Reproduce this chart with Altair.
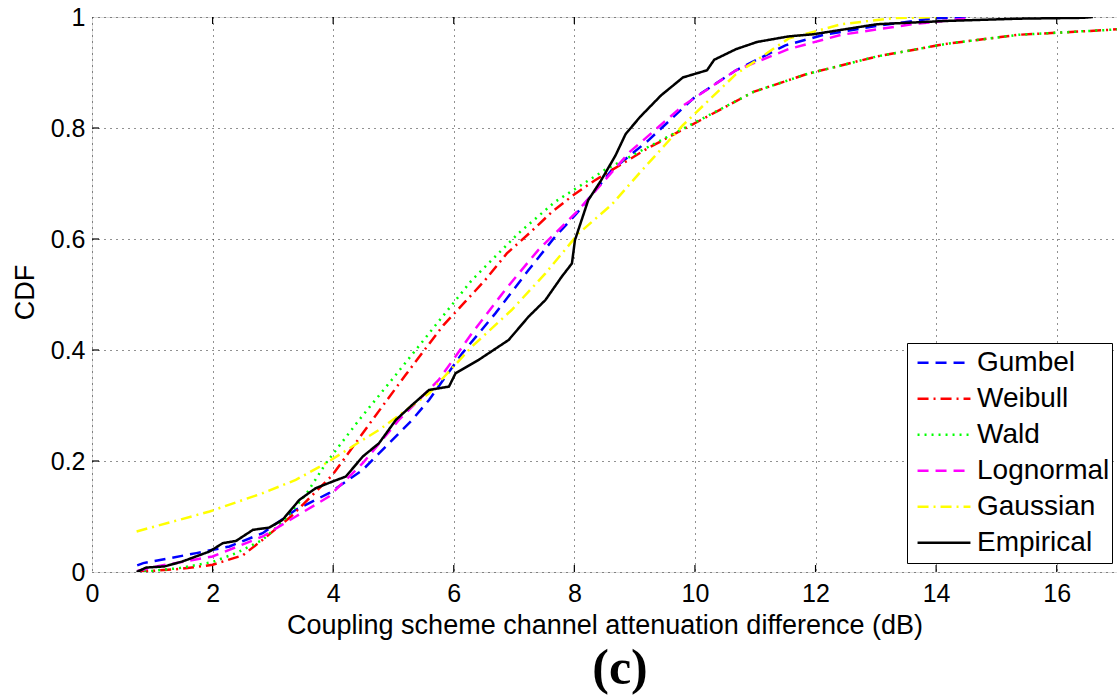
import altair as alt
import pandas as pd

series_names = ["Gumbel", "Weibull", "Wald", "Lognormal", "Gaussian", "Empirical"]
series_colors = ["#0000ff", "#ff0000", "#00ff00", "#ff00ff", "#ffff00", "#000000"]
series_dashes = [[11, 7], [11, 5, 2, 5], [2, 5], [11, 7], [11, 5, 2, 5], [1, 0]]

gumbel_x = [0.75, 0.85, 1.73, 2.28, 2.83, 3.38, 3.93, 4.49, 5.31, 5.59, 6.14, 6.69, 7.24, 7.68, 8.03, 8.62, 9.21, 9.97, 10.68, 11.5, 12.14, 13.02, 13.9, 14.5]
gumbel_y = [0.012, 0.016, 0.034, 0.046, 0.07, 0.112, 0.142, 0.184, 0.274, 0.31, 0.394, 0.466, 0.544, 0.604, 0.645, 0.724, 0.776, 0.853, 0.904, 0.949, 0.968, 0.984, 0.997, 1.0]

weibull_x = [0.75, 1.0, 1.5, 2.0, 2.5, 2.83, 3.3, 3.99, 4.65, 5.2, 5.83, 6.19, 6.52, 6.88, 7.27, 7.63, 7.97, 8.33, 9.21, 10.09, 10.97, 11.85, 13.02, 14.19, 15.37, 16.9, 17.0]
weibull_y = [0.0, 0.002, 0.006, 0.013, 0.03, 0.058, 0.1, 0.175, 0.274, 0.355, 0.445, 0.487, 0.526, 0.574, 0.612, 0.649, 0.678, 0.705, 0.763, 0.814, 0.865, 0.897, 0.929, 0.952, 0.968, 0.977, 0.978]

wald_x = [0.75, 1.0, 1.45, 2.0, 2.39, 2.83, 3.2, 3.55, 3.88, 4.43, 5.0, 5.59, 6.3, 7.07, 7.68, 8.5, 9.21, 10.09, 10.97, 11.85, 13.02, 14.19, 15.37, 16.9, 17.0]
wald_y = [0.0, 0.002, 0.007, 0.018, 0.034, 0.058, 0.095, 0.14, 0.196, 0.274, 0.35, 0.43, 0.526, 0.61, 0.667, 0.724, 0.765, 0.815, 0.865, 0.897, 0.929, 0.952, 0.968, 0.977, 0.978]

lognormal_x = [0.75, 1.07, 2.0, 2.83, 3.38, 3.93, 4.49, 5.09, 5.75, 6.3, 6.85, 7.4, 8.05, 8.92, 9.8, 10.68, 11.55, 12.43, 13.6, 14.49]
lognormal_y = [0.002, 0.01, 0.028, 0.064, 0.1, 0.136, 0.196, 0.274, 0.346, 0.43, 0.508, 0.58, 0.65, 0.757, 0.84, 0.904, 0.942, 0.968, 0.987, 0.997]

gaussian_x = [0.74, 1.95, 2.83, 3.38, 3.88, 4.49, 4.76, 5.59, 6.3, 6.96, 7.52, 8.07, 8.62, 9.09, 9.8, 10.68, 11.55, 12.43, 13.3, 14.0]
gaussian_y = [0.073, 0.109, 0.142, 0.166, 0.196, 0.238, 0.256, 0.322, 0.406, 0.472, 0.538, 0.61, 0.662, 0.72, 0.805, 0.897, 0.961, 0.987, 0.998, 1.0]

empirical_x = [0.74, 0.9, 1.2, 1.5, 1.95, 2.17, 2.39, 2.67, 2.94, 3.16, 3.44, 3.71, 3.99, 4.21, 4.49, 4.76, 5.04, 5.3, 5.59, 5.92, 6.03, 6.41, 6.91, 7.24, 7.52, 7.79, 7.96, 8.01, 8.12, 8.23, 8.44, 8.68, 8.85, 9.09, 9.44, 9.8, 10.2, 10.32, 10.68, 11.03, 11.55, 11.97, 13.02, 14.19, 15.37, 16.43, 16.6]
empirical_y = [0.0, 0.008, 0.01, 0.019, 0.037, 0.052, 0.056, 0.076, 0.08, 0.094, 0.13, 0.151, 0.163, 0.172, 0.208, 0.232, 0.274, 0.3, 0.328, 0.334, 0.358, 0.382, 0.418, 0.46, 0.49, 0.532, 0.556, 0.598, 0.634, 0.67, 0.705, 0.75, 0.789, 0.82, 0.859, 0.891, 0.904, 0.923, 0.942, 0.955, 0.965, 0.969, 0.987, 0.993, 0.997, 0.9985, 1.0]

x_ticks = [0, 2, 4, 6, 8, 10, 12, 14, 16]
y_ticks = [0, 0.2, 0.4, 0.6, 0.8, 1]

x_title = "Coupling scheme channel attenuation difference (dB)"
y_title = "CDF"
caption = "(c)"

all_x = [gumbel_x, weibull_x, wald_x, lognormal_x, gaussian_x, empirical_x]
all_y = [gumbel_y, weibull_y, wald_y, lognormal_y, gaussian_y, empirical_y]
rows = []
for name, xs, ys in zip(series_names, all_x, all_y):
    for i, (a, b) in enumerate(zip(xs, ys)):
        rows.append({"series": name, "x": a, "y": b, "order": i})
df = pd.DataFrame(rows)

FONT = "Liberation Sans"

xscale = alt.Scale(domain=[0, 17], nice=False, zero=False)
yscale = alt.Scale(domain=[0, 1], nice=False)

legend = alt.Legend(orient="none", legendX=815, legendY=326, title=None,
                    symbolType="stroke", symbolSize=2800, symbolStrokeWidth=2.5,
                    symbolOffset=7, clipHeight=35.7,
                    labelFont=FONT, labelFontSize=28, labelColor="black",
                    strokeColor="black", fillColor="white", padding=2,
                    rowPadding=0, labelOffset=5, labelLimit=300)

lines = alt.Chart(df).mark_line(strokeWidth=2.5, clip=True).encode(
    x=alt.X("x:Q", scale=xscale,
            axis=alt.Axis(values=x_ticks, format="d", labelFlush=False, title=x_title, grid=True,
                          gridDash=[1, 5], gridColor="#222",
                          gridWidth=1, ticks=False, domain=False, labelFont=FONT, labelFontSize=25,
                          labelColor="black", labelPadding=9, titleFont=FONT, titleFontSize=27,
                          titleFontWeight="normal", titleColor="black", titleBaseline="alphabetic",
                          titleY=61)),
    y=alt.Y("y:Q", scale=yscale,
            axis=alt.Axis(values=y_ticks, title=y_title, grid=True, gridDash=[1, 5], gridColor="#222",
                          gridWidth=1, ticks=False, domain=False, labelFont=FONT, labelFontSize=25,
                          labelColor="black", labelPadding=7, labelFlush=False, titleFont=FONT, titleFontSize=27,
                          titleFontWeight="normal", titleColor="black", titleBaseline="alphabetic",
                          titleX=-59, titleY=275,
                          labelExpr="datum.value == 0 ? '0' : datum.value == 1 ? '1' : format(datum.value, '.1f')")),
    color=alt.Color("series:N", scale=alt.Scale(domain=series_names, range=series_colors),
                    sort=series_names, legend=legend),
    strokeDash=alt.StrokeDash("series:N", scale=alt.Scale(domain=series_names, range=series_dashes),
                              sort=series_names, legend=legend),
    order="order:Q",
    detail="series:N",
)

tick_x_df = pd.DataFrame({"x": x_ticks[1:]})
tick_y_df = pd.DataFrame({"y": y_ticks[1:-1]})
bottom_ticks = alt.Chart(tick_x_df).mark_rule(color="black", strokeWidth=1.2).encode(
    x="x:Q", y=alt.value(555), y2=alt.value(548))
top_ticks = alt.Chart(tick_x_df).mark_rule(color="black", strokeWidth=1.2).encode(
    x="x:Q", y=alt.value(0), y2=alt.value(7))
left_ticks = alt.Chart(tick_y_df).mark_rule(color="black", strokeWidth=1.2).encode(
    y="y:Q", x=alt.value(0), x2=alt.value(7))

cap = alt.Chart(pd.DataFrame({"t": [caption]})).mark_text(
    font="Liberation Serif", fontSize=50, fontWeight="bold", color="black",
    baseline="alphabetic", align="center").encode(
    text="t:N", x=alt.value(528), y=alt.value(667))

chart = alt.layer(bottom_ticks, top_ticks, left_ticks, lines, cap).properties(
    width=1025, height=555,
    padding={"left": 92, "top": 17, "right": 0, "bottom": 124},
    autosize=alt.AutoSizeParams(type="none"),
).configure_view(stroke="black", strokeWidth=1.5).configure(background="white")

chart.save("out.html", embed_options={"renderer": "svg", "actions": False})
